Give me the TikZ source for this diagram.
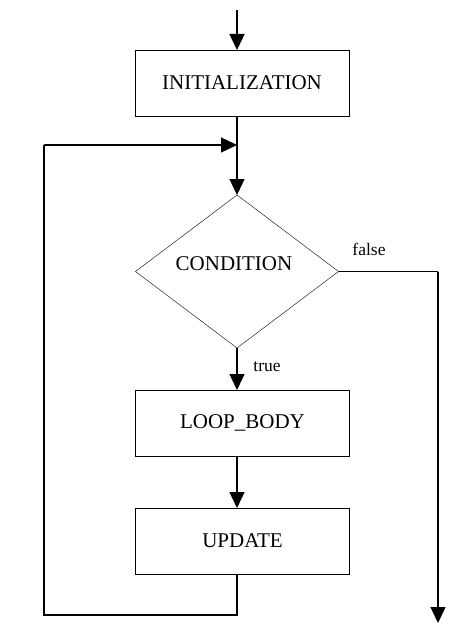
\documentclass[tikz,border=0pt]{standalone}
\usepackage{fontspec}
\setmainfont{Liberation Serif}
\usetikzlibrary{shapes.geometric,arrows.meta}
\begin{document}
\begin{tikzpicture}[x=1pt,y=-1pt,
  box/.style={draw,rectangle,minimum width=214pt,minimum height=66pt,inner sep=0pt,outer sep=0pt,font=\fontsize{21}{24}\selectfont},
  cond/.style={draw,diamond,minimum width=203pt,minimum height=153pt,inner sep=0pt,outer sep=0pt},
  lbl/.style={inner sep=0pt,font=\fontsize{17.5}{20}\selectfont},
  flow/.style={line width=1.3pt,-{Triangle[length=16pt,width=15pt]}},
  line/.style={line width=1.3pt}]
\useasboundingbox (0,0) rectangle (463,639);
\coordinate (top) at (237,10);
\node[box] (init) at (242,83) {INITIALIZATION};
\coordinate (j) at (237,145);
\node[cond] (cond) at (237,271.5) {};
\node[font=\fontsize{21}{24}\selectfont,inner sep=0pt] (condtxt) at (234,264) {CONDITION};
\node[box] (body) at (242.5,423) {LOOP\_BODY};
\node[box] (upd) at (242.5,541) {UPDATE};
\coordinate (bl) at (237,615);
\coordinate (bll) at (44,615);
\coordinate (tl) at (44,145);
\coordinate (fr) at (438,271.5);
\coordinate (fend) at (438,623);
\node[lbl] (false) at (369,249) {false};
\node[lbl] (true) at (267,367) {true};
\draw[flow] (top) -- (init.north -| top);
\draw[line] (init.south -| top) -- (j);
\draw[flow] (j) -- (cond.north);
\draw[flow] (cond.south) -- (body.north -| cond.south);
\draw[flow] (body.south -| cond.south) -- (upd.north -| cond.south);
\draw[line] (upd.south -| cond.south) -- (bl) -- (bll) -- (tl);
\draw[flow] (tl) -- (j);
\draw[line] (cond.east) -- (fr);
\draw[flow] (fr) -- (fend);
\end{tikzpicture}
\end{document}
